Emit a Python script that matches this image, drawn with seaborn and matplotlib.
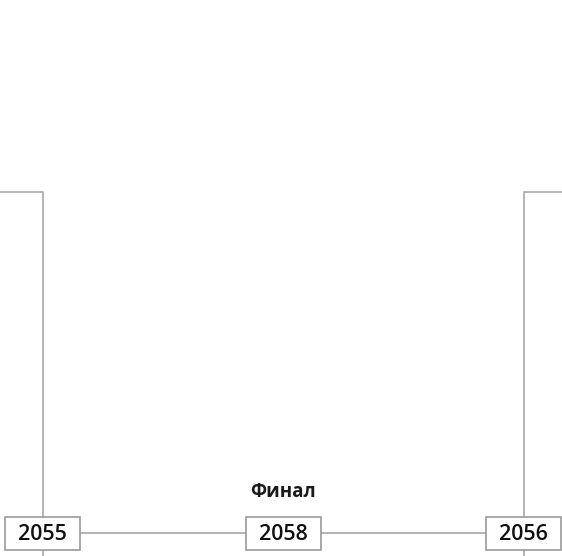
import pandas as pd
import seaborn as sns
import matplotlib
import matplotlib.pyplot as plt
from matplotlib.patches import Rectangle

matplotlib.use("Agg")

# данные: матчи в нижнем ряду сетки и заголовок раунда
match_labels = ["2055", "2058", "2056"]
match_col = [0, 1, 2]
round_title = "Финал"
round_col = 1

sns.set_theme(style="white")
plt.rcParams["font.family"] = ["Open Sans", "DejaVu Sans"]

# раскладка в пикселях
W, H = 562, 556
x0, dx = 42.5, 240.5
row_y = 533
top_y = 192
box_w, box_h = 75, 33
line_col = "#a8a8a8"

fig = plt.figure(figsize=(W / 100, H / 100), dpi=100)
ax = fig.add_axes([0, 0, 1, 1])
ax.set_xlim(0, W)
ax.set_ylim(H, 0)
ax.axis("off")

xs = [x0 + dx * c for c in match_col]

# соединительные линии
segs = pd.DataFrame({
    "seg": [0, 0, 0, 1, 1, 1, 2, 2],
    "x": [0, xs[0], xs[0], W, xs[2], xs[2], xs[0], xs[2]],
    "y": [top_y, top_y, H, top_y, top_y, H, row_y, row_y],
})
sns.lineplot(data=segs, x="x", y="y", units="seg", estimator=None,
             sort=False, color=line_col, linewidth=1.2, ax=ax)

# коробки с номерами матчей
for x, lab in zip(xs, match_labels):
    ax.add_patch(Rectangle((x - box_w / 2, row_y - box_h / 2), box_w, box_h,
                           facecolor="white", edgecolor="#9a9a9a",
                           linewidth=1.2, zorder=3))
    ax.text(x, row_y + 1, lab, ha="center", va="center", fontsize=15.5,
            fontweight="semibold", color="#111111", zorder=4)

ax.text(x0 + dx * round_col, 492, round_title, ha="center", va="center",
        fontsize=13.5, fontweight="bold", color="#1a1a1a")

ax.set_xlabel("")
ax.set_ylabel("")
fig.savefig("out.png", dpi=100)
